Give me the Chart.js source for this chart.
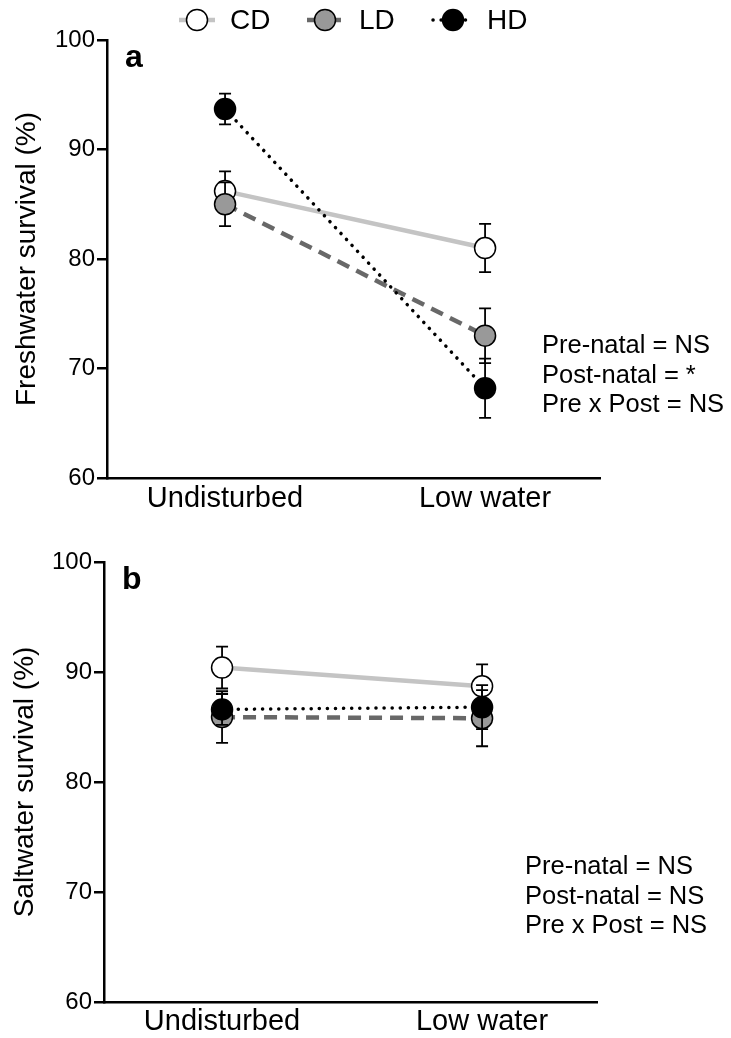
<!DOCTYPE html>
<html>
<head>
<meta charset="utf-8">
<script src="https://cdn.jsdelivr.net/npm/chart.js@4.4.1/dist/chart.umd.min.js"></script>
<style>
  html, body { margin: 0; padding: 0; background: #fff; }
  #wrap { position: relative; width: 731px; height: 1038px; }
  canvas { position: absolute; left: 0; }
  #freshChart { top: 0; }
  #saltChart { top: 519px; }
</style>
</head>
<body>
<div id="wrap">
  <canvas id="freshChart" width="731" height="519"></canvas>
  <canvas id="saltChart" width="731" height="519"></canvas>
</div>
<script>
const categories = ['Undisturbed', 'Low water'];
const groups = ['CD', 'LD', 'HD'];

// panel a - freshwater survival (%)
const freshCD = [86.2, 81.0];
const freshCDErr = [1.8, 2.2];
const freshLD = [85.0, 73.0];
const freshLDErr = [2.0, 2.5];
const freshHD = [93.7, 68.2];
const freshHDErr = [1.4, 2.7];
const freshStats = ['Pre-natal = NS', 'Post-natal = *', 'Pre x Post = NS'];

// panel b - saltwater survival (%)
const saltCD = [90.4, 88.7];
const saltCDErr = [1.9, 2.0];
const saltLD = [85.9, 85.8];
const saltLDErr = [2.35, 2.55];
const saltHD = [86.6, 86.8];
const saltHDErr = [1.4, 2.0];
const saltStats = ['Pre-natal = NS', 'Post-natal = NS', 'Pre x Post = NS'];

const FONT = "'Liberation Sans', Arial, Helvetica, sans-serif";
Chart.defaults.font.family = FONT;
Chart.defaults.color = '#000';

// line / marker look for each group
const styles = {
  CD: { line: '#c4c4c4', fill: '#ffffff', width: 4.5, dash: [], cap: 'butt' },
  LD: { line: '#686868', fill: '#999999', width: 4.5, dash: [13, 8], cap: 'butt' },
  HD: { line: '#000000', fill: '#000000', width: 3.5, dash: [0.1, 8], cap: 'round' }
};

function makeDataset(name, values, errs, order) {
  const s = styles[name];
  return {
    label: name,
    data: values.map((v, i) => ({ x: i, y: v })),
    errors: errs,
    borderColor: s.line,
    borderWidth: s.width,
    borderDash: s.dash,
    borderCapStyle: s.cap,
    pointRadius: 10.5,
    pointHoverRadius: 10.5,
    pointBackgroundColor: s.fill,
    pointBorderColor: '#000',
    pointBorderWidth: 1.5,
    tension: 0,
    order: order
  };
}

// error bars drawn just before each dataset's own line and markers
const errorBars = {
  id: 'errorBars',
  beforeDatasetDraw(chart, args) {
    const ds = chart.data.datasets[args.index];
    const y = chart.scales.y;
    const ctx = chart.ctx;
    ctx.save();
    ctx.strokeStyle = '#000';
    ctx.lineWidth = 1.8;
    args.meta.data.forEach((pt, i) => {
      const v = ds.data[i].y;
      const e = ds.errors[i];
      const top = y.getPixelForValue(v + e);
      const bot = y.getPixelForValue(v - e);
      ctx.beginPath();
      ctx.moveTo(pt.x, top); ctx.lineTo(pt.x, bot);
      ctx.moveTo(pt.x - 6, top); ctx.lineTo(pt.x + 6, top);
      ctx.moveTo(pt.x - 6, bot); ctx.lineTo(pt.x + 6, bot);
      ctx.stroke();
    });
    ctx.restore();
  }
};

// panel letter and statistics text
const panelText = {
  id: 'panelText',
  afterDraw(chart, args, opts) {
    const ctx = chart.ctx;
    const area = chart.chartArea;
    ctx.save();
    ctx.fillStyle = '#000';
    ctx.textBaseline = 'alphabetic';
    ctx.textAlign = 'left';
    ctx.font = 'bold 32px ' + FONT;
    ctx.fillText(opts.letter, area.left + 18, area.top + 27);
    ctx.font = '25.5px ' + FONT;
    ctx.textBaseline = 'middle';
    opts.lines.forEach((t, i) => ctx.fillText(t, opts.x, opts.y + i * 29.5));
    ctx.restore();
  }
};

// legend with line + marker samples
const lineLegend = {
  id: 'lineLegend',
  afterDraw(chart, args, opts) {
    if (!opts.show) return;
    const ctx = chart.ctx;
    const items = [
      { name: 'CD', cx: 197, tx: 230 },
      { name: 'LD', cx: 325, tx: 359 },
      { name: 'HD', cx: 453, tx: 487 }
    ];
    const yy = 20;
    ctx.save();
    items.forEach(it => {
      const s = styles[it.name];
      ctx.strokeStyle = s.line;
      ctx.lineWidth = s.width;
      ctx.setLineDash(s.dash);
      ctx.lineCap = s.cap;
      ctx.beginPath();
      if (it.name === 'HD') {
        ctx.moveTo(it.cx - 20, yy); ctx.lineTo(it.cx + 14, yy);
      } else {
        ctx.moveTo(it.cx - 18, yy); ctx.lineTo(it.cx + 18, yy);
      }
      ctx.stroke();
      ctx.setLineDash([]);
      ctx.beginPath();
      ctx.arc(it.cx, yy, 10.5, 0, Math.PI * 2);
      ctx.fillStyle = s.fill;
      ctx.fill();
      ctx.lineWidth = 1.5;
      ctx.strokeStyle = '#000';
      ctx.stroke();
      ctx.fillStyle = '#000';
      ctx.font = '28px ' + FONT;
      ctx.textAlign = 'left';
      ctx.textBaseline = 'middle';
      ctx.fillText(it.name, it.tx, yy + 1);
    });
    ctx.restore();
  }
};

function makeChart(id, cfg) {
  const ds = [
    makeDataset('CD', cfg.cd, cfg.cdErr, 3),
    makeDataset('LD', cfg.ld, cfg.ldErr, 2),
    makeDataset('HD', cfg.hd, cfg.hdErr, 1)
  ];
  return new Chart(document.getElementById(id), {
    type: 'line',
    data: { datasets: ds },
    plugins: [errorBars, panelText, lineLegend],
    options: {
      responsive: false,
      animation: false,
      events: [],
      layout: { padding: { top: cfg.top, right: 731 - cfg.right, left: 0, bottom: 0 } },
      plugins: {
        legend: { display: false },
        tooltip: { enabled: false },
        panelText: { letter: cfg.letter, lines: cfg.stats, x: cfg.statX, y: cfg.statY },
        lineLegend: { show: cfg.legend }
      },
      scales: {
        x: {
          type: 'linear',
          min: -0.454,
          max: 1.442,
          afterFit(scale) { scale.height = cfg.xHeight; },
          afterBuildTicks(scale) { scale.ticks = categories.map((c, i) => ({ value: i })); },
          grid: { display: false, drawTicks: false },
          border: { display: true, color: '#000', width: 2.5 },
          ticks: {
            autoSkip: false,
            maxRotation: 0,
            padding: cfg.xPad,
            font: { size: 29 },
            color: '#000',
            callback: v => categories[v]
          }
        },
        y: {
          min: 60,
          max: 100,
          afterFit(scale) { scale.width = cfg.left; },
          grid: { display: true, drawOnChartArea: false, drawTicks: true, tickLength: 10, color: '#000', lineWidth: 2.5 },
          border: { display: true, color: '#000', width: 2.5 },
          ticks: { stepSize: 10, padding: 2, font: { size: 24 }, color: '#000' },
          title: {
            display: true,
            text: cfg.yTitle,
            font: { size: 28 },
            color: '#000',
            padding: { top: cfg.titlePad, bottom: 0 }
          }
        }
      }
    }
  });
}

makeChart('freshChart', {
  cd: freshCD, cdErr: freshCDErr, ld: freshLD, ldErr: freshLDErr, hd: freshHD, hdErr: freshHDErr,
  top: 40, left: 107, right: 600, xHeight: 41, xPad: 4, titlePad: 10,
  yTitle: 'Freshwater survival (%)', letter: 'a', stats: freshStats, statX: 542, statY: 346, legend: true
});

makeChart('saltChart', {
  cd: saltCD, cdErr: saltCDErr, ld: saltLD, ldErr: saltLDErr, hd: saltHD, hdErr: saltHDErr,
  top: 43, left: 104, right: 597, xHeight: 36, xPad: 3, titlePad: 8,
  yTitle: 'Saltwater survival (%)', letter: 'b', stats: saltStats, statX: 525, statY: 867 - 519, legend: false
});
</script>
</body>
</html>
